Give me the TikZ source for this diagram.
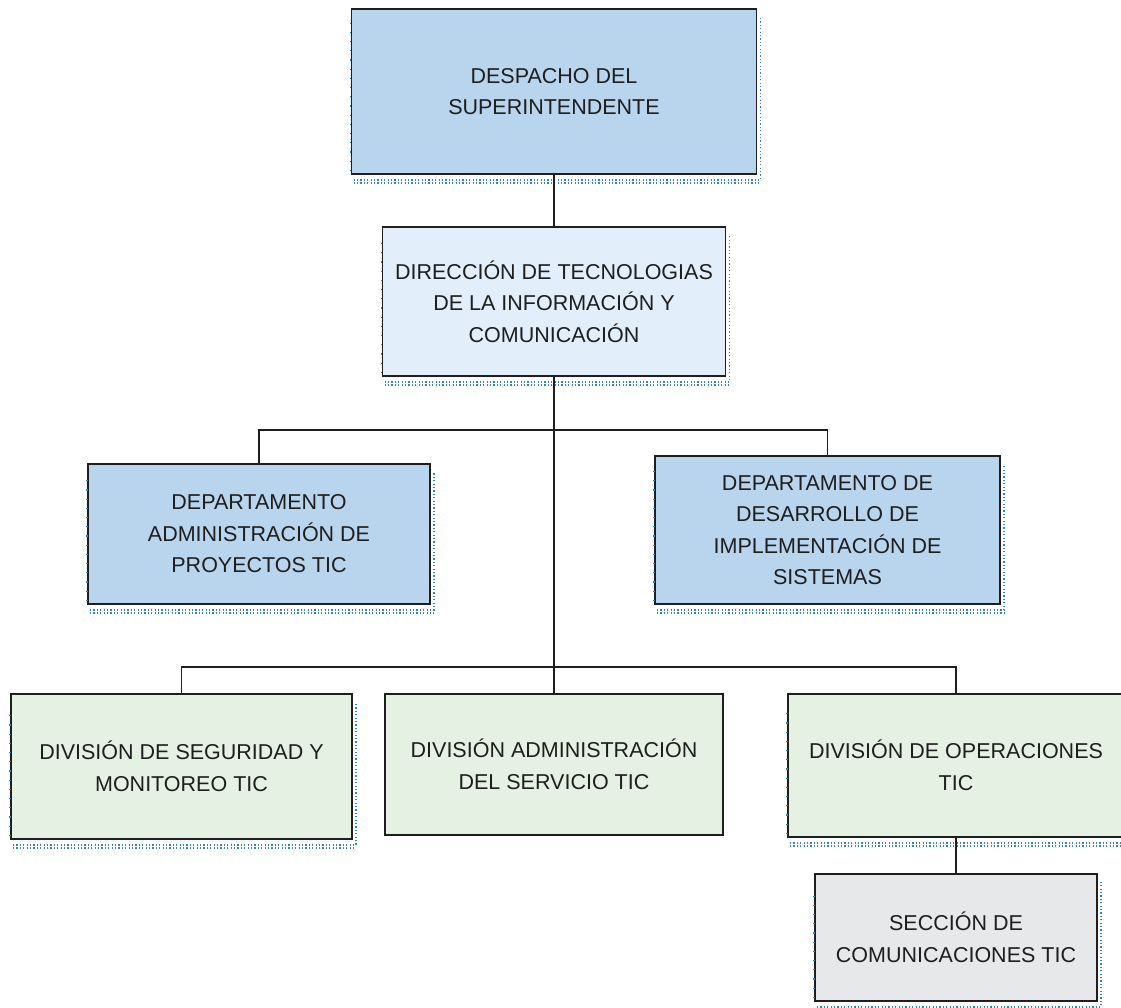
\documentclass[tikz,border=0pt]{standalone}
\usepackage{fontspec}
\setmainfont{Liberation Sans}
\usetikzlibrary{calc}

\definecolor{boxblue}{HTML}{B9D5EE}
\definecolor{boxpale}{HTML}{E2EFFA}
\definecolor{boxgreen}{HTML}{E4F1E3}
\definecolor{boxgray}{HTML}{E7E8EA}
\definecolor{shadowdot}{HTML}{2F86BE}
\definecolor{edge}{HTML}{1E1E1E}

\tikzset{
  orgbox/.style={draw=edge, line width=1.6pt, inner sep=0pt, outer sep=0pt,
    align=center, text=edge,
    font=\fontsize{21.5}{31.5}\selectfont},
  link/.style={draw=edge, line width=1.6pt},
  shadowline/.style={draw=shadowdot, line width=1.6pt, dash pattern=on 1.2pt off 2.2pt},
  sideticks/.style={draw=shadowdot, line width=1.4pt, dash pattern=on 1.2pt off 8pt}
}

% dotted shadow along the right and lower edge, sparse ticks on the left edge
\newcommand{\boxshade}[1]{%
  \path[shadowline] ($(#1.south west)+(2,6)$) -- ($(#1.south east)+(4,6)$) -- ($(#1.north east)+(4,8)$);
  \path[shadowline] ($(#1.south west)+(2,9)$) -- ($(#1.south east)+(4,9)$);
  \path[sideticks] ($(#1.south west)+(-1,-3)$) -- ($(#1.north west)+(-1,14)$);
}

\begin{document}
\begin{tikzpicture}[x=1pt,y=-1pt]
  \useasboundingbox (0,0) rectangle (1121,1007);
  \fill[white] (0,0) rectangle (1121,1007);

  % boxes
  \node[orgbox, fill=boxblue, minimum width=405pt, minimum height=165pt]
    (top) at (554,91.5) {DESPACHO DEL\\SUPERINTENDENTE};
  \node[orgbox, fill=boxpale, minimum width=343pt, minimum height=149pt]
    (dir) at (554,301.5) {DIRECCIÓN DE TECNOLOGIAS\\DE LA INFORMACIÓN Y\\COMUNICACIÓN};
  \node[orgbox, fill=boxblue, minimum width=342pt, minimum height=140pt]
    (deptL) at (259,534) {DEPARTAMENTO\\ADMINISTRACIÓN DE\\PROYECTOS TIC};
  \node[orgbox, fill=boxblue, minimum width=345pt, minimum height=148pt]
    (deptR) at (827.5,530) {DEPARTAMENTO DE\\DESARROLLO DE\\IMPLEMENTACIÓN DE\\SISTEMAS};
  \node[orgbox, fill=boxgreen, minimum width=341pt, minimum height=145pt]
    (divL) at (181.5,766.5) {DIVISIÓN DE SEGURIDAD Y\\MONITOREO TIC};
  \node[orgbox, fill=boxgreen, minimum width=338pt, minimum height=141pt]
    (divM) at (554,764.5) {DIVISIÓN ADMINISTRACIÓN\\DEL SERVICIO TIC};
  \node[orgbox, fill=boxgreen, minimum width=336pt, minimum height=143pt]
    (divR) at (956,765.5) {DIVISIÓN DE OPERACIONES\\TIC};
  \node[orgbox, fill=boxgray, minimum width=282pt, minimum height=127pt]
    (sec) at (956,937.5) {SECCIÓN DE\\COMUNICACIONES TIC};

  % dotted shadows
  \boxshade{top}
  \boxshade{dir}
  \boxshade{deptL}
  \boxshade{deptR}
  \boxshade{divL}
  \boxshade{divR}
  \boxshade{sec}

  % bus levels
  \coordinate (busA) at (554,430);
  \coordinate (busB) at (554,667);

  % connectors
  \draw[link] (top.south) -- (dir.north);
  \draw[link] (dir.south) -- (divM.north);
  \draw[link] (deptL.north) |- (busA) -| (deptR.north);
  \draw[link] (divL.north) |- (busB) -| (divR.north);
  \draw[link] (divR.south) -- (sec.north);
\end{tikzpicture}
\end{document}
